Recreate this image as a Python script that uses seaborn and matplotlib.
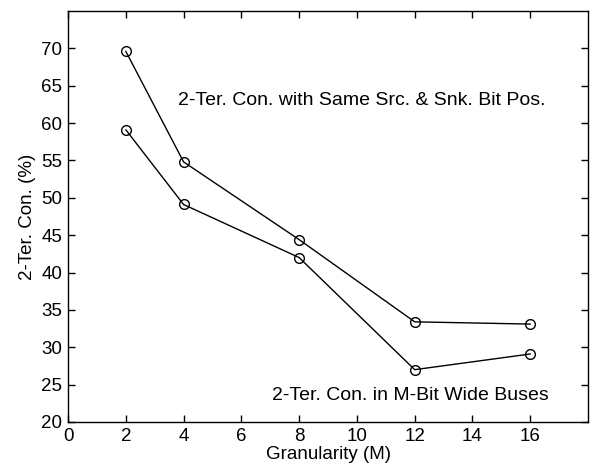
import seaborn as sns
import pandas as pd
import matplotlib.pyplot as plt

sns.set_style("ticks")
plt.rcParams['font.family'] = ['Liberation Sans', 'DejaVu Sans']
plt.rcParams['text.color'] = 'black'
plt.rcParams['axes.labelcolor'] = 'black'
plt.rcParams['xtick.color'] = 'black'
plt.rcParams['ytick.color'] = 'black'

# Granularity (M) and percentages
granularity = [2, 4, 8, 12, 16]
same_pos = [69.6, 54.8, 44.4, 33.4, 33.1]
wide_bus = [59.1, 49.1, 42.0, 27.0, 29.1]

df = pd.DataFrame({
    'M': granularity * 2,
    'pct': same_pos + wide_bus,
    'series': ['same'] * 5 + ['wide'] * 5,
})

fig = plt.figure(figsize=(5.94, 4.75), dpi=100)
ax = fig.add_axes([0.1145, 0.1116, 0.8755, 0.8654])

sns.lineplot(data=df, x='M', y='pct', units='series', estimator=None,
             color='black', lw=1, marker='o', markersize=7,
             markerfacecolor='none', markeredgecolor='black', markeredgewidth=1,
             ax=ax)

ax.set_xlim(0, 18)
ax.set_ylim(20, 75)
ax.set_xticks(range(0, 17, 2))
ax.set_yticks(range(20, 71, 5))
ax.tick_params(direction='in', top=True, right=True, labelsize=13.5, length=5,
               width=1, color='black', pad=4)
for s in ax.spines.values():
    s.set_visible(True)
    s.set_color('black')
    s.set_linewidth(1)

ax.set_xlabel('Granularity (M)', fontsize=13.5, labelpad=1)
ax.set_ylabel('2-Ter. Con. (%)', fontsize=13.5, labelpad=4)

ax.text(3.8, 63, '2-Ter. Con. with Same Src. & Snk. Bit Pos.', fontsize=14,
        va='center')
ax.text(7.07, 23.6, '2-Ter. Con. in M-Bit Wide Buses', fontsize=14,
        va='center')

fig.savefig('out.png', dpi=100)
